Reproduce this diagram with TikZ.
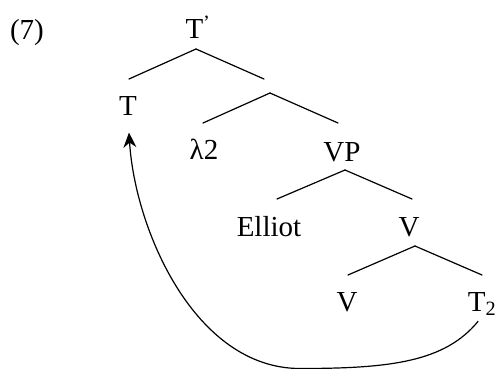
\documentclass[tikz,border=0pt]{standalone}
\usepackage{fontspec}
\setmainfont{Liberation Serif}
\usetikzlibrary{arrows.meta}

\begin{document}
\begin{tikzpicture}[
  x=1pt, y=-1pt, line width=1.2pt,
  font=\fontsize{29pt}{34pt}\selectfont,
  lbl/.style={anchor=base, inner sep=0pt},
  br/.style={line cap=round},
  mv/.style={-{Stealth[length=15pt, width=13pt, inset=5pt]}}]

  \useasboundingbox (0,0) rectangle (496,369);

  % --- example number and tree labels ---
  \node[lbl] (ex)   at (27,40)   {(7)};
  \node[lbl] (tp)   at (198,39)  {T\textsuperscript{’}};
  \node[lbl] (t)    at (128,116) {T};
  \coordinate (tb)  at (270,93);
  \node[lbl] (lam)  at (204,160) {λ2};
  \node[lbl] (vp)   at (342,161) {VP};
  \node[lbl] (ell)  at (269,236) {Elliot};
  \node[lbl] (v)    at (409,236) {V};
  \node[lbl] (vv)   at (347,311) {V};
  \node[lbl] (t2)   at (482,311) {T\textsubscript{2}};

  % --- branches ---
  \draw[br] (196,49) -- (129,79);  \draw[br] (196,49) -- (264,79);
  \draw[br] (tb) -- (203,123);     \draw[br] (tb) -- (338,123);
  \draw[br] (345,170) -- (277,199); \draw[br] (345,170) -- (412,199);
  \draw[br] (415,246) -- (348,275); \draw[br] (415,246) -- (482,275);

  % --- movement of T2 up to T ---
  \draw[mv, shorten <=6pt, shorten >=16pt] (t2.south)
    .. controls (445,362) and (390,368.5) .. (300,368.5)
    .. controls (195,368.5) and (135,230) .. (t.south);
\end{tikzpicture}
\end{document}
